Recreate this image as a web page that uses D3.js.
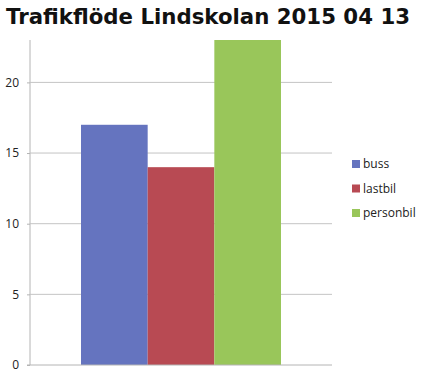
<!DOCTYPE html>
<html>
<head>
<meta charset="utf-8">
<script src="https://cdn.jsdelivr.net/npm/d3@7"></script>
<style>
  body { margin: 0; background: #fff; }
  text { font-family: "Open Sans", "Liberation Sans", sans-serif; }
</style>
</head>
<body>
<div id="chart"></div>
<script>
const series = ["buss", "lastbil", "personbil"];
const values = [17, 14, 23];
const colors = ["#6574bf", "#b84a53", "#99c65a"];
const yTicks = [0, 5, 10, 15, 20];
const title = "Trafikflöde Lindskolan 2015 04 13";

const width = 425, height = 376;
const margin = { top: 40, left: 30, right: 93, bottom: 11 };

const svg = d3.select("#chart").append("svg")
  .attr("width", width)
  .attr("height", height);

const x = d3.scaleBand()
  .domain(series)
  .range([81, 281]);

const y = d3.scaleLinear()
  .domain([0, 23])
  .range([height - margin.bottom, margin.top]);

// gridlines + ticks
const yAxis = svg.append("g")
  .attr("transform", `translate(${margin.left},0)`)
  .call(d3.axisLeft(y).tickValues(yTicks).tickSize(3).tickPadding(8));
yAxis.select(".domain").attr("stroke", "#b4b4b4").attr("d", `M0,${y(0)}V${margin.top}`);
yAxis.selectAll(".tick line").attr("stroke", "#b4b4b4");
yAxis.selectAll(".tick text").attr("font-size", "12px").attr("fill", "#222");

svg.append("g")
  .selectAll("line")
  .data(yTicks.filter(d => d > 0))
  .join("line")
  .attr("x1", margin.left)
  .attr("x2", width - margin.right)
  .attr("y1", d => y(d))
  .attr("y2", d => y(d))
  .attr("stroke", "#c4c4c4");

svg.append("g")
  .selectAll("rect")
  .data(series)
  .join("rect")
  .attr("x", d => x(d))
  .attr("width", x.bandwidth())
  .attr("y", (d, i) => y(values[i]))
  .attr("height", (d, i) => y(0) - y(values[i]))
  .attr("fill", (d, i) => colors[i]);

// baseline
svg.append("line")
  .attr("x1", margin.left - 3)
  .attr("x2", width - margin.right)
  .attr("y1", y(0))
  .attr("y2", y(0))
  .attr("stroke", "#b4b4b4");

svg.append("text")
  .attr("x", 6)
  .attr("y", 24)
  .style("font-family", "'DejaVu Sans', Verdana, sans-serif")
  .style("font-weight", "bold")
  .style("font-size", "22px")
  .attr("textLength", 404)
  .attr("lengthAdjust", "spacingAndGlyphs")
  .attr("fill", "#111")
  .text(title);

const legend = svg.append("g")
  .selectAll("g")
  .data(series)
  .join("g")
  .attr("transform", (d, i) => `translate(352,${164 + i * 24.5})`);

legend.append("rect")
  .attr("y", -4)
  .attr("width", 8)
  .attr("height", 8)
  .attr("fill", (d, i) => colors[i]);

legend.append("text")
  .attr("x", 11)
  .attr("dy", "0.35em")
  .attr("font-size", "12px")
  .attr("fill", "#222")
  .text(d => d);
</script>
</body>
</html>
